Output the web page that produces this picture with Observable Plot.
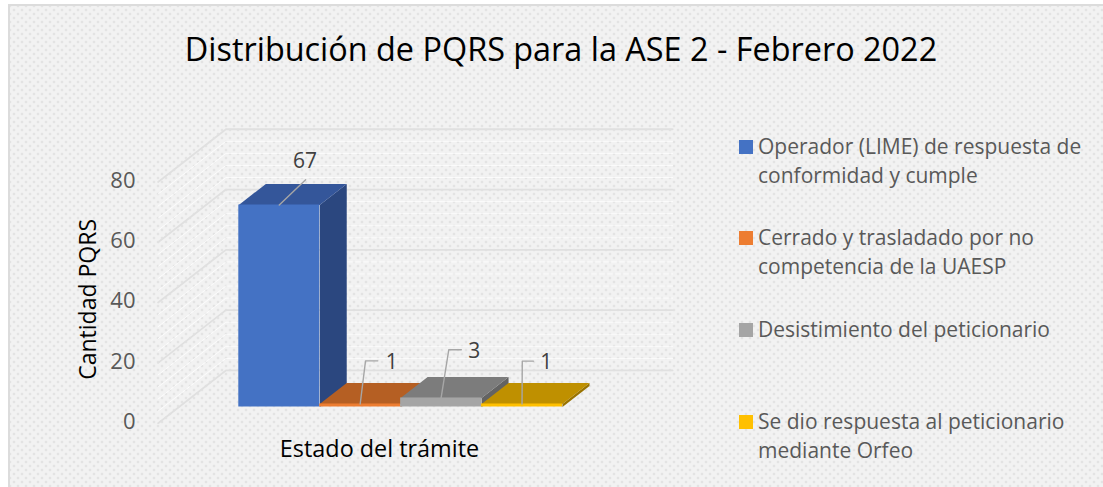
<!DOCTYPE html>
<html lang="es">
<head>
<meta charset="utf-8">
<script src="https://cdn.jsdelivr.net/npm/d3@7"></script>
<script src="https://cdn.jsdelivr.net/npm/@observablehq/plot@0.6"></script>
<style>
html,body{margin:0;padding:0;background:#fff;width:1103px;height:487px;overflow:hidden}
#card{position:absolute;left:8px;top:4px;width:1095px;height:483px;box-sizing:border-box;
  border-left:2px solid #dcdcdc;border-top:2px solid #dcdcdc;background-color:#f2f2f2;
  background-image:radial-gradient(circle,#e3e3e3 1.1px,rgba(0,0,0,0) 1.7px),radial-gradient(circle,#e3e3e3 1.1px,rgba(0,0,0,0) 1.7px);
  background-size:8px 8px;background-position:0 0,4px 4px}
#chart{position:absolute;left:0;top:0}
#title{position:absolute;left:0;width:1122px;top:25px;text-align:center;font:32.4px/46px "Open Sans",sans-serif;color:#000;white-space:nowrap}
.leg{position:absolute;left:758px;font:21px/29px "Open Sans",sans-serif;color:#595959;white-space:nowrap}
.sw{position:absolute;left:739px;width:14px;height:14px}
</style>
</head>
<body>
<div id="card"></div>
<div id="chart"></div>
<div id="title">Distribución de PQRS para la ASE 2 - Febrero 2022</div>
<div id="legend"></div>
<script>
// Data
const categories = [
  ["Operador (LIME) de respuesta de", "conformidad y cumple"],
  ["Cerrado y trasladado por no", "competencia de la UAESP"],
  ["Desistimiento del peticionario"],
  ["Se dio respuesta al peticionario", "mediante Orfeo"]
];
const values = [67, 1, 3, 1];
const yTicks = [0, 20, 40, 60, 80];
const frontColors = ["#4472C4", "#ED7D31", "#A5A5A5", "#FFC000"];
const topColors = ["#34569A", "#B55F23", "#7C7C7C", "#BF9000"];
const sideColors = ["#2B477F", "#9A4F1C", "#636363", "#997300"];

// Oblique projection used for the depth of the 3D box, in scale units
const DX = 0.3337, DY = 6.965;
const project = (i, v, d) => ({x: i + d * DX, y: v + d * DY});

// Walls
const wallLeft = -0.74, wallRight = 4.78, wallFront = -0.77, wallBack = 1.74;
const wallLine = (v) => [
  {...project(wallLeft, v, wallFront), v},
  {...project(wallLeft, v, wallBack), v},
  {...project(wallRight, v, wallBack), v}
];
const majorGrid = yTicks.flatMap(wallLine);
const minorGrid = d3.range(0, 81, 4).filter((v) => v % 20 !== 0).flatMap(wallLine);

// Bar faces, painted left to right
const faces = values.flatMap((v, i) => {
  const top = [[i,0],[i+1,0],[i+1,1],[i,1]].map(([a,d]) => ({...project(a, v, d), id:`t${i}`, c:topColors[i]}));
  const side = [[0,0],[1,0],[1,v],[0,v]].map(([d,h]) => ({...project(i+1, h, d), id:`s${i}`, c:sideColors[i]}));
  return [...side, ...top];
});
const fronts = values.map((v, i) => ({i, v, c: frontColors[i]}));

// Leader lines and their labels
const leaderElbow = [[0.326, 75.4], [0.066, 15.3], [0.095, 19], [0.003, 15.2]];
const leaderEnd = [null, 0.218, 0.25, 0.14];
const labelPos = [[0.317, 81.4], [0.39, 14.7], [0.41, 18.4], [0.30, 14.7]];
const leaders = values.flatMap((v, i) => {
  const c = i + 0.5;
  const pts = [{x:c, y:v, i}, {x:c + leaderElbow[i][0], y:leaderElbow[i][1], i}];
  if (leaderEnd[i] !== null) pts.push({x:c + leaderEnd[i], y:leaderElbow[i][1], i});
  return pts;
});
const labels = values.map((v, i) => ({x:i + 0.5 + labelPos[i][0], y:labelPos[i][1], t:String(v)}));

const font = '"Open Sans", sans-serif';
const plot = Plot.plot({
  width: 1103, height: 487,
  marginLeft: 135, marginRight: 430, marginTop: 165.3, marginBottom: 80.5,
  style: {background: "transparent", fontFamily: font},
  x: {domain: [0, 4], range: [238.3, 562], axis: null},
  y: {domain: [0, 80], range: [406.5, 165.3]},
  marks: [
    Plot.line(minorGrid, {x:"x", y:"y", z:"v", stroke:"#ffffff", strokeWidth:1, strokeOpacity:0.75}),
    Plot.line(majorGrid, {x:"x", y:"y", z:"v", stroke:"#e0e0e0", strokeWidth:1.8}),
    ...values.flatMap((v, i) => [
      Plot.line(faces.filter((f) => f.id === `s${i}` || f.id === `t${i}`), {x:"x", y:"y", z:"id", fill:"c", stroke:null}),
      Plot.rect([fronts[i]], {x1:(d) => d.i, x2:(d) => d.i + 1, y1:0, y2:"v", fill:"c"})
    ]),
    Plot.line(leaders, {x:"x", y:"y", z:"i", stroke:"#a6a6a6", strokeWidth:1.4}),
    Plot.text(labels, {x:"x", y:"y", text:"t", fontSize:21, fill:"#404040"}),
    Plot.axisY({ticks:yTicks, tickSize:0, tickPadding:0, dy:15, label:null, fontSize:22, color:"#595959", fill:"#595959", tickFormat:"d"}),
    Plot.text(["Cantidad PQRS"], {frameAnchor:"left", textAnchor:"middle", rotate:-90, dx:-47, dy:13, fontSize:23, fill:"#000"}),
    Plot.text(["Estado del trámite"], {frameAnchor:"bottom", dx:-25, dy:50, fontSize:23.4, fill:"#000"})
  ]
});
document.getElementById("chart").append(plot);

// Legend
const legendTop = [140, 231, 323, 415];
const legend = document.getElementById("legend");
categories.forEach((lines, i) => {
  const s = document.createElement("div");
  s.className = "sw"; s.style.top = legendTop[i] + "px"; s.style.background = frontColors[i];
  legend.append(s);
  const t = document.createElement("div");
  t.className = "leg"; t.style.top = (legendTop[i] - 8) + "px"; t.innerHTML = lines.join("<br>");
  legend.append(t);
});
</script>
</body>
</html>
